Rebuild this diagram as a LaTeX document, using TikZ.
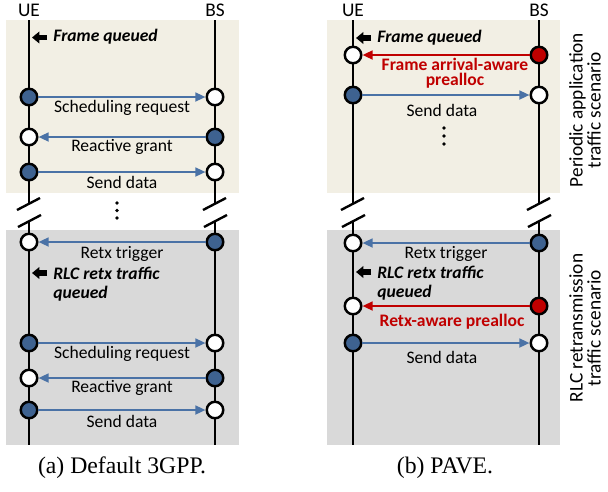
\documentclass[tikz,border=0pt]{standalone}
\usepackage{fontspec}
\setmainfont{Carlito}
\newfontfamily\capfont{Liberation Serif}
\usetikzlibrary{arrows.meta,positioning}

\definecolor{bgperiodic}{HTML}{F2EFE4}
\definecolor{bgretx}{HTML}{D9D9D9}
\definecolor{msgblue}{HTML}{4A72A6}
\definecolor{dotblue}{HTML}{3E6290}
\definecolor{preallocred}{HTML}{C00000}

\tikzset{
  life/.style={line width=1.35pt},
  evt/.style={circle, draw=black, line width=1.4pt, minimum size=0.33cm, inner sep=0pt},
  tx/.style={evt, fill=dotblue},
  rx/.style={evt, fill=white},
  pa/.style={evt, fill=preallocred},
  msg/.style={draw=msgblue, line width=1.3pt, -{Triangle[length=5.8pt,width=5pt]}},
  pre/.style={msg, draw=preallocred},
  lbl/.style={font=\fontsize{10}{12}\selectfont, inner sep=0pt},
  prelbl/.style={font=\bfseries\fontsize{10}{8.5}\selectfont, text=preallocred, align=center, inner sep=0pt},
  note/.style={font=\bfseries\itshape\fontsize{10}{10.8}\selectfont, align=left, anchor=west, inner sep=0pt},
  queue/.style={line width=3pt, -{Triangle[length=4.2pt,width=6.6pt]}},
  side/.style={font=\fontsize{11}{10.2}\selectfont, rotate=90, align=center, inner sep=0pt},
  entity/.style={font=\fontsize{11}{13}\selectfont, inner sep=0pt},
}

\begin{document}
\begin{tikzpicture}[x=0.02cm, y=-0.02cm]
    \useasboundingbox (0,0) rectangle (608,491);

    % scenario backgrounds
    \fill[bgperiodic] (6,20) rectangle (239,193);
    \fill[bgperiodic] (327,20) rectangle (560,193);
    \fill[bgretx] (6,230) rectangle (239,445);
    \fill[bgretx] (327,230) rectangle (560,445);

    % lifelines with the time cut
    \foreach \lx in {29,215,353,539} {
        \draw[life] (\lx,20) -- (\lx,204);
        \draw[life] (\lx,221) -- (\lx,445);
        \draw[life] (\lx-12,210) -- (\lx+11,198);
        \draw[life] (\lx-11,227) -- (\lx+12,215);
    }

    \node[entity] (ueA) at (29,10.5) {UE};
    \node[entity] (bsA) at (215,10.5) {BS};
    \node[entity] (ueB) at (353,10.5) {UE};
    \node[entity] (bsB) at (539,10.5) {BS};

    % (a) default 3GPP: UE -> BS
    \foreach \n/\y/\dy/\txt in {sr1/97/11/Scheduling request, sd1/172/10/Send data,
                               sr2/343/11/Scheduling request, sd2/410/11/Send data} {
        \node[tx] (\n-ue) at (29,\y) {};
        \node[rx] (\n-bs) at (215,\y) {};
        \draw[msg] (\n-ue) -- node[lbl, yshift=-\dy*0.02cm] {\txt} (\n-bs);
    }
    % (a) default 3GPP: BS -> UE
    \foreach \n/\y/\dy/\txt in {rg1/137/10/Reactive grant, rt1/242/12/Retx trigger,
                               rg2/378/10/Reactive grant} {
        \node[tx] (\n-bs) at (215,\y) {};
        \node[rx] (\n-ue) at (29,\y) {};
        \draw[msg] (\n-bs) -- node[lbl, yshift=-\dy*0.02cm] {\txt} (\n-ue);
    }

    \node[note] (fqA) at (53,37) {Frame queued};
    \coordinate (fqA tail) at (47,37.5);
    \draw[queue] (fqA tail) -- ++(-15,0);
    \node[note] (rqA) at (53,284) {RLC retx traffic\\queued};
    \coordinate (rqA tail) at (47,273);
    \draw[queue] (rqA tail) -- ++(-15,0);

    \foreach \d in {203,210.5,218}
        \fill (117,\d) circle (1.1pt);

    % (b) PAVE
    \node[note] (fqB) at (377,38) {Frame queued};
    \coordinate (fqB tail) at (371,38);
    \draw[queue] (fqB tail) -- ++(-15,0);

    \node[rx] (fa-ue) at (353,55) {};
    \node[pa] (fa-bs) at (539,55) {};
    \draw[pre] (fa-bs) -- node[prelbl, xshift=0.18cm, yshift=-0.37cm] {Frame arrival-aware\\prealloc} (fa-ue);

    \node[tx] (sd3-ue) at (353,95) {};
    \node[rx] (sd3-bs) at (539,95) {};
    \draw[msg] (sd3-ue) -- node[lbl, xshift=-0.08cm, yshift=-0.31cm] {Send data} (sd3-bs);

    \foreach \d in {128,136,144}
        \fill (444,\d) circle (1.1pt);

    \node[tx] (rt2-bs) at (539,243) {};
    \node[rx] (rt2-ue) at (353,243) {};
    \draw[msg] (rt2-bs) -- node[lbl, yshift=-0.21cm] {Retx trigger} (rt2-ue);

    \node[note] (rqB) at (377,283) {RLC retx traffic\\queued};
    \coordinate (rqB tail) at (371,272);
    \draw[queue] (rqB tail) -- ++(-15,0);

    \node[rx] (ra-ue) at (353,306) {};
    \node[pa] (ra-bs) at (539,306) {};
    \draw[pre] (ra-bs) -- node[prelbl, xshift=0.12cm, yshift=-0.32cm] {Retx-aware prealloc} (ra-ue);

    \node[tx] (sd4-ue) at (353,343) {};
    \node[rx] (sd4-bs) at (539,343) {};
    \draw[msg] (sd4-ue) -- node[lbl, xshift=-0.08cm, yshift=-0.28cm] {Send data} (sd4-bs);

    % scenario names
    \node[side] (perL) at (585,110) {Periodic application\\traffic scenario};
    \node[side] (rtxL) at (585,328) {RLC retransmission\\traffic scenario};

    % sub-captions
    \node[font=\capfont\fontsize{13.5}{16}\selectfont] (capA) at (122,468) {(a) Default 3GPP.};
    \node[font=\capfont\fontsize{13.5}{16}\selectfont] (capB) at (445,468) {(b) PAVE.};
\end{tikzpicture}
\end{document}
